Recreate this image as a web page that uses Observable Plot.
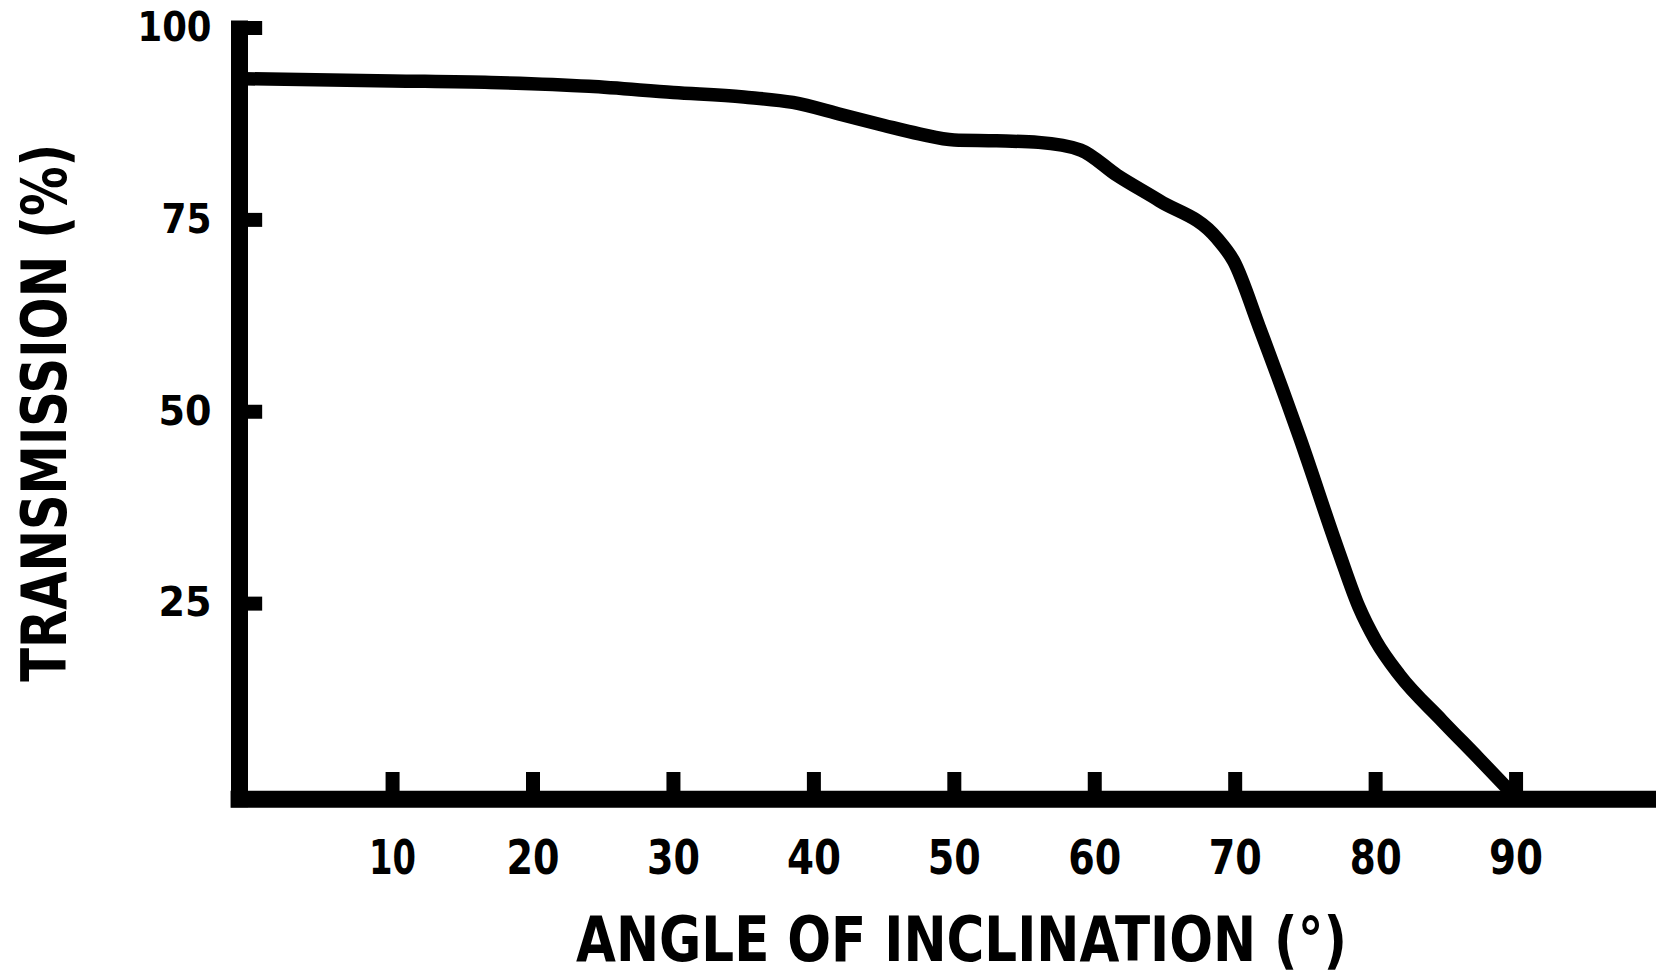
<!DOCTYPE html>
<html>
<head>
<meta charset="utf-8">
<script src="https://cdn.jsdelivr.net/npm/d3@7"></script>
<script src="https://cdn.jsdelivr.net/npm/@observablehq/plot@0.6"></script>
<style>
html, body { margin: 0; padding: 0; background: #fff; }
svg text { font-stretch: condensed; }
</style>
</head>
<body>
<div id="chart"></div>
<script>
// ---- data ----
const angle = [-0.9, 10, 17, 24, 30, 35, 38.5, 42, 45, 47.5, 50, 53, 56, 59, 61.6, 64.6, 68.7, 69.9, 71.7, 74.6, 77.4, 78.8, 80.0, 81.7, 84.7, 87.3, 89.6];
const transmission = [93.4, 93.1, 92.9, 92.4, 91.6, 91.0, 90.3, 88.7, 87.3, 86.2, 85.4, 85.3, 85.1, 84.1, 80.8, 77.5, 72.6, 69.6, 61.1, 46.6, 31.6, 24.6, 20.2, 15.7, 9.8, 4.9, 0.5];
const xTicks = [10, 20, 30, 40, 50, 60, 70, 80, 90];
const yTicks = [25, 50, 75, 100];
const xTitle = "ANGLE OF INCLINATION (°)";
const yTitle = "TRANSMISSION (%)";

const data = angle.map((a, i) => ({angle: a, t: transmission[i]}));
const X0 = -0.9, X1 = 100;
const ink = "#000";

const chart = Plot.plot({
  width: 1656,
  height: 976,
  marginTop: 27.5,
  marginBottom: 181,
  marginLeft: 239,
  marginRight: 0,
  x: {domain: [X0, X1], axis: null},
  y: {domain: [0, 100], axis: null},
  style: {fontFamily: "'DejaVu Sans', sans-serif", background: "#fff", color: "#000"},
  marks: [
    // y tick stubs
    Plot.ruleY(yTicks, {y: d => d, x1: X0, x2: 0.75, stroke: ink, strokeWidth: 14}),
    // x tick stubs
    Plot.ruleX(xTicks, {x: d => d, y1: 0, y2: 3.0, stroke: ink, strokeWidth: 14}),
    // y axis line
    Plot.ruleX([X0], {y1: -1.6, y2: 100.9, stroke: ink, strokeWidth: 17}),
    // x axis line
    Plot.ruleY([-0.5], {x1: X0 - 0.6, x2: X1, stroke: ink, strokeWidth: 17}),
    // curve
    Plot.line(data, {x: "angle", y: "t", stroke: ink, strokeWidth: 13.5, curve: "monotone-x", strokeLinejoin: "round", strokeLinecap: "butt"}),
    // tick labels
    Plot.text(xTicks, {x: d => d, y: 0, dy: 63, text: d => String(d), fontSize: 48, fontWeight: "bold", lineAnchor: "middle", fill: ink}),
    Plot.text(yTicks, {x: X0, y: d => d, dx: -28, text: d => String(d), textAnchor: "end", fontSize: 40, fontWeight: "bold", lineAnchor: "middle", fill: ink}),
    // axis titles
    Plot.text([xTitle], {frameAnchor: "bottom", dx: 13.5, dy: 146, text: d => d, textAnchor: "middle", fontSize: 62, fontWeight: "bold", lineAnchor: "middle", fill: ink}),
    Plot.text([yTitle], {frameAnchor: "left", dx: -193, dy: 1, text: d => d, rotate: -90, textAnchor: "middle", fontSize: 62, fontWeight: "bold", lineAnchor: "middle", fill: ink})
  ]
});

document.getElementById("chart").appendChild(chart);

// fit the condensed lettering of the original
const widths = {"10": 47, "20": 53, "30": 53, "40": 54, "50": 53, "60": 53, "70": 53, "80": 52, "90": 54,
  [xTitle]: 771, [yTitle]: 538};
const yWidths = {"100": 74, "75": 50, "50": 53, "25": 53};
d3.select(chart).selectAll("text").each(function() {
  const s = this.textContent;
  const fs = +this.parentNode.getAttribute("font-size") || 0;
  let w = null;
  if (fs === 40 && yWidths[s] != null) w = yWidths[s];
  else if (widths[s] != null) w = widths[s];
  if (w != null) {
    this.setAttribute("textLength", w);
    this.setAttribute("lengthAdjust", "spacingAndGlyphs");
  }
});
</script>
</body>
</html>
